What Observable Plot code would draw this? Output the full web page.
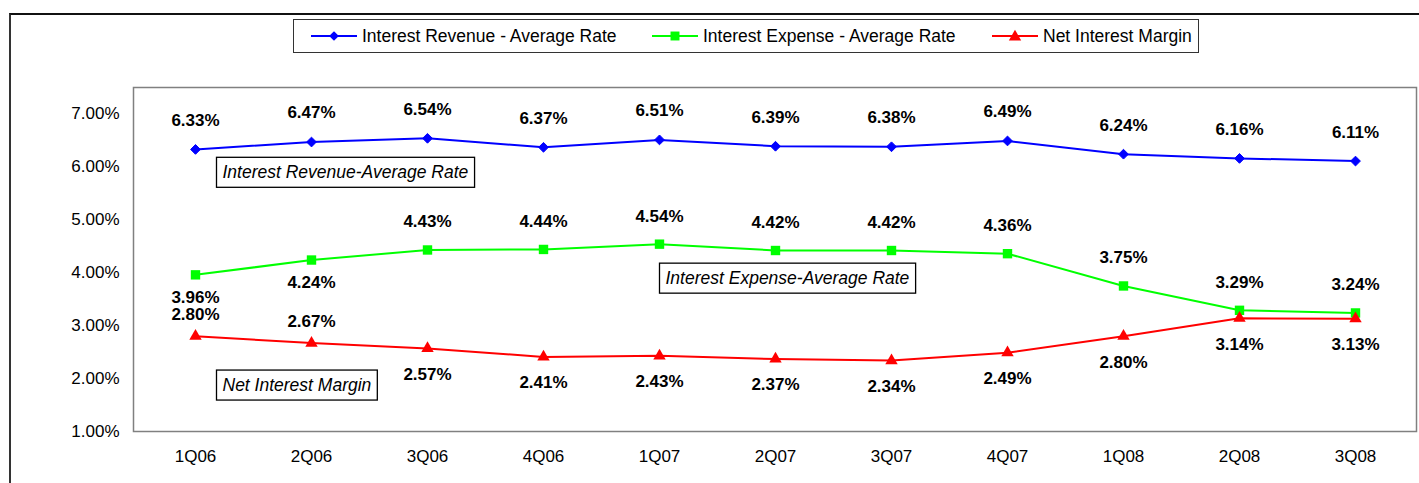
<!DOCTYPE html>
<html>
<head>
<meta charset="utf-8">
<script src="https://cdn.jsdelivr.net/npm/d3@7"></script>
<script src="https://cdn.jsdelivr.net/npm/@observablehq/plot@0.6"></script>
<style>
  body { margin: 0; background: #fff; }
  #wrap { position: relative; width: 1419px; height: 483px; overflow: hidden; background: #fff;
          font-family: "Liberation Sans", Arial, sans-serif; color: #000; }
  #outer { position: absolute; left: 9px; top: 13px; width: 1500px; height: 600px;
           border-left: 2px solid #333; border-top: 2px solid #111; box-sizing: border-box; }
  #chart { position: absolute; left: 0; top: 0; }
  #legend { position: absolute; left: 293px; top: 19px; width: 906px; height: 34px;
            border: 1px solid #333; box-sizing: border-box; background: #fff; z-index: 2; }
  .item { position: absolute; top: 0; height: 32px; display: flex; align-items: center;
          font-size: 17.5px; white-space: nowrap; }
  .item svg { margin-right: 5px; }
</style>
</head>
<body>
<div id="wrap">
  <div id="outer"></div>
  <div id="chart"></div>
  <div id="legend"></div>
</div>
<script>
// ---- data ----
const quarters = ["1Q06","2Q06","3Q06","4Q06","1Q07","2Q07","3Q07","4Q07","1Q08","2Q08","3Q08"];
const revenue  = [6.33, 6.47, 6.54, 6.37, 6.51, 6.39, 6.38, 6.49, 6.24, 6.16, 6.11];
const expense  = [3.96, 4.24, 4.43, 4.44, 4.54, 4.42, 4.42, 4.36, 3.75, 3.29, 3.24];
const netMargin = [2.80, 2.67, 2.57, 2.41, 2.43, 2.37, 2.34, 2.49, 2.80, 3.14, 3.13];
const seriesNames = ["Interest Revenue - Average Rate", "Interest Expense - Average Rate", "Net Interest Margin"];
const yTicks = [1, 2, 3, 4, 5, 6, 7];
const annotationTexts = ["Interest Revenue-Average Rate", "Interest Expense-Average Rate", "Net Interest Margin"];
const annotationAnchors = [{q: "1Q06", v: 5.89}, {q: "1Q07", v: 3.89}, {q: "1Q06", v: 1.87}];

// ---- build tables ----
const toRows = vals => quarters.map((q, i) => ({q, v: vals[i], i}));
const rev = toRows(revenue), exp = toRows(expense), net = toRows(netMargin);
const pct = d => d.v.toFixed(2) + "%";
const colors = ["#0000FF", "#00FF00", "#FF0000"];

const labelStyle = {x: "q", y: "v", text: pct, fontWeight: "bold", fontSize: 17, fill: "#000"};
const anno = (k, dx) => Plot.text([annotationAnchors[k]], {
  x: "q", y: "v", text: () => annotationTexts[k], dx, textAnchor: "start",
  fontStyle: "italic", fontSize: 17.5, fill: "#000"
});

const plot = Plot.plot({
  width: 1419,
  height: 483,
  marginLeft: 133,
  marginRight: 3,
  marginTop: 87,
  marginBottom: 52,
  style: {background: "transparent", fontFamily: "'Liberation Sans', Arial, sans-serif", fontSize: "17px", color: "#000"},
  x: {type: "point", domain: quarters, padding: 0.5, tickSize: 0, tickPadding: 18, label: null},
  y: {domain: [1, 7.5], ticks: yTicks, tickFormat: d => d.toFixed(2) + "%", tickSize: 0, tickPadding: 14, label: null},
  marks: [
    Plot.frame({stroke: "#808080", strokeWidth: 1.5}),
    Plot.line(rev, {x: "q", y: "v", stroke: colors[0], strokeWidth: 2}),
    Plot.line(exp, {x: "q", y: "v", stroke: colors[1], strokeWidth: 2}),
    Plot.line(net, {x: "q", y: "v", stroke: colors[2], strokeWidth: 2}),
    Plot.dot(rev, {x: "q", y: "v", symbol: "diamond2", r: 4.4, fill: colors[0], stroke: colors[0], strokeWidth: 1}),
    Plot.dot(exp, {x: "q", y: "v", symbol: "square", r: 5.3, fill: colors[1]}),
    Plot.dot(net, {x: "q", y: "v", symbol: "triangle", r: 4.6, fill: colors[2]}),
    Plot.text(rev, {...labelStyle, dy: -29}),
    Plot.text(exp.filter(d => d.i < 2), {...labelStyle, dy: 23}),
    Plot.text(exp.filter(d => d.i >= 2), {...labelStyle, dy: -28}),
    Plot.text(net.filter(d => d.i < 2), {...labelStyle, dy: -22}),
    Plot.text(net.filter(d => d.i >= 2), {...labelStyle, dy: 26}),
    anno(0, 27),
    anno(1, 6),
    anno(2, 27)
  ]
});
document.getElementById("chart").appendChild(plot);

// boxes behind the annotation texts
const svgNS = "http://www.w3.org/2000/svg";
Array.from(plot.querySelectorAll("text"))
  .filter(t => annotationTexts.includes(t.textContent.trim()))
  .forEach(t => {
    const b = t.getBBox();
    const r = document.createElementNS(svgNS, "rect");
    r.setAttribute("x", b.x - 6);
    r.setAttribute("y", b.y - 5);
    r.setAttribute("width", b.width + 12);
    r.setAttribute("height", b.height + 10);
    r.setAttribute("fill", "#fff");
    r.setAttribute("stroke", "#000");
    r.setAttribute("stroke-width", "1.3");
    const tr = t.getAttribute("transform");
    if (tr) r.setAttribute("transform", tr);
    t.parentNode.insertBefore(r, t);
  });

// ---- legend ----
const legend = document.getElementById("legend");
const symbolTypes = [d3.symbolDiamond2, d3.symbolSquare, d3.symbolTriangle];
const symbolSizes = [60, 80, 66];
const itemLefts = [17, 358, 698];
seriesNames.forEach((name, k) => {
  const item = document.createElement("div");
  item.className = "item";
  item.style.left = itemLefts[k] + "px";
  const path = d3.symbol(symbolTypes[k], symbolSizes[k])();
  item.innerHTML = `<svg width="46" height="14" viewBox="0 0 46 14">
      <line x1="0" y1="7" x2="46" y2="7" stroke="${colors[k]}" stroke-width="2"/>
      <path d="${path}" transform="translate(23,${k === 2 ? 8 : 7})" fill="${colors[k]}"/>
    </svg><span>${name}</span>`;
  legend.appendChild(item);
});
</script>
</body>
</html>
